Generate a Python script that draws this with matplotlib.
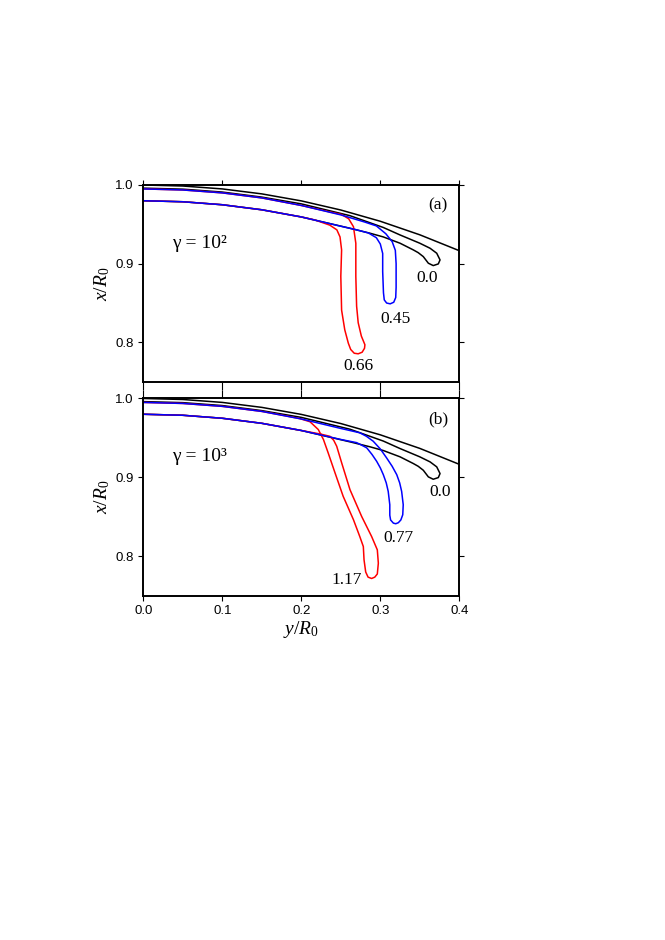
import matplotlib
matplotlib.use('Agg')
import matplotlib.pyplot as plt

plt.rcParams['mathtext.fontset'] = 'custom'
plt.rcParams['mathtext.rm'] = 'Liberation Serif'
plt.rcParams['mathtext.it'] = 'Liberation Serif:italic'

# unit circle (R0)
circle_y = [0.0, 0.05, 0.1, 0.15, 0.2, 0.25, 0.3, 0.35, 0.4]
circle_x = [1.0, 0.9987, 0.995, 0.9887, 0.9798, 0.9682, 0.9539, 0.9367, 0.9165]

# black loop, same in both panels (label 0.0)
black_y = [0, 0.05, 0.1, 0.15, 0.2, 0.2616, 0.3038, 0.325, 0.350, 0.363, 0.3714, 0.3756,
           0.3734, 0.367, 0.3608, 0.3544, 0.348, 0.3418, 0.325, 0.3038, 0.287, 0.2616,
           0.2, 0.15, 0.1, 0.05, 0]
black_x = [0.996, 0.9947, 0.991, 0.9846, 0.976, 0.961, 0.946, 0.9365, 0.926, 0.9196, 0.9133, 0.9048,
           0.8997, 0.8976, 0.9006, 0.909, 0.914, 0.9175, 0.926, 0.934, 0.9387, 0.945,
           0.9594, 0.9685, 0.9749, 0.9787, 0.980]

# panel (a), gamma = 1e2
red_a_y = [0, 0.05, 0.1, 0.15, 0.2, 0.235, 0.251, 0.26, 0.266, 0.269, 0.269, 0.270, 0.272,
           0.276, 0.2805, 0.2800, 0.277, 0.272, 0.267, 0.2625, 0.2595, 0.255, 0.251, 0.250,
           0.251, 0.249, 0.245, 0.236, 0.217, 0.2, 0.15, 0.1, 0.05, 0]
red_a_x = [0.995, 0.9937, 0.990, 0.9836, 0.974, 0.966, 0.9625, 0.957, 0.947, 0.926, 0.884, 0.846, 0.825,
           0.808, 0.797, 0.7925, 0.7875, 0.7855, 0.7862, 0.791, 0.799, 0.816, 0.841, 0.884,
           0.9175, 0.934, 0.943, 0.949, 0.9556, 0.9594, 0.9685, 0.9749, 0.9787, 0.980]

blue_a_y = [0, 0.05, 0.1, 0.15, 0.2, 0.25, 0.28, 0.295, 0.307, 0.315, 0.319, 0.320, 0.320,
            0.3195, 0.317, 0.3125, 0.308, 0.305, 0.304, 0.303, 0.303, 0.300, 0.295, 0.285,
            0.27, 0.25, 0.2, 0.15, 0.1, 0.05, 0]
blue_a_x = [0.995, 0.9937, 0.990, 0.9836, 0.974, 0.962, 0.953, 0.948, 0.938, 0.928, 0.917, 0.90, 0.87,
            0.857, 0.851, 0.849, 0.850, 0.854, 0.863, 0.89, 0.913, 0.925, 0.933, 0.939,
            0.943, 0.9476, 0.9594, 0.9685, 0.9749, 0.9787, 0.980]

# panel (b), gamma = 1e3
red_b_y = [0, 0.05, 0.1, 0.15, 0.18, 0.198, 0.211, 0.2215, 0.228, 0.234, 0.2427, 0.253, 0.266,
           0.274, 0.2785, 0.2794, 0.2815, 0.2845, 0.289, 0.293, 0.2962, 0.2975, 0.2962, 0.289,
           0.2764, 0.2616, 0.2511, 0.2448, 0.241, 0.2363, 0.2237, 0.2, 0.15, 0.1, 0.05, 0]
red_b_x = [0.995, 0.9937, 0.990, 0.9836, 0.978, 0.9745, 0.9705, 0.9606, 0.948, 0.931, 0.9056, 0.8759, 0.8463,
           0.825, 0.8123, 0.7954, 0.780, 0.7735, 0.7718, 0.7735, 0.7775, 0.7912, 0.8081, 0.825,
           0.8504, 0.8844, 0.9183, 0.9394, 0.947, 0.952, 0.955, 0.9594, 0.9685, 0.9749, 0.9787, 0.980]

blue_b_y = [0, 0.05, 0.1, 0.15, 0.2, 0.25, 0.274, 0.2825, 0.291, 0.300, 0.308, 0.315, 0.3208,
            0.3245, 0.327, 0.329, 0.3284, 0.326, 0.3228, 0.3195, 0.3165, 0.313, 0.312, 0.312,
            0.310, 0.3075, 0.3038, 0.300, 0.2954, 0.2895, 0.2828, 0.276, 0.270, 0.25, 0.2,
            0.15, 0.1, 0.05, 0]
blue_b_x = [0.995, 0.9937, 0.990, 0.9836, 0.974, 0.962, 0.9565, 0.952, 0.9458, 0.936, 0.9246, 0.914, 0.9034,
            0.893, 0.8822, 0.8653, 0.8526, 0.846, 0.8425, 0.8412, 0.842, 0.846, 0.852, 0.8653,
            0.8822, 0.893, 0.9034, 0.912, 0.9203, 0.929, 0.9374, 0.941, 0.944, 0.948, 0.9594,
            0.9685, 0.9749, 0.9787, 0.980]

xticks = [0.0, 0.1, 0.2, 0.3, 0.4]
yticks = [0.8, 0.9, 1.0]

serif = 'Liberation Serif'
sans = 'Liberation Sans'

fig = plt.figure(figsize=(6.65, 9.4), dpi=100)
ax_a = fig.add_axes([0.2155, 0.5939, 0.4752, 0.2093])
ax_b = fig.add_axes([0.2155, 0.3663, 0.4752, 0.2098])

panels = [
    (ax_a, red_a_y, red_a_x, blue_a_y, blue_a_x, '(a)', 'γ = 10²',
     [('0.0', 0.3587, 0.8816), ('0.45', 0.3186, 0.830), ('0.66', 0.272, 0.7694)]),
    (ax_b, red_b_y, red_b_x, blue_b_y, blue_b_x, '(b)', 'γ = 10³',
     [('0.0', 0.3756, 0.8814), ('0.77', 0.3228, 0.823), ('1.17', 0.2575, 0.770)]),
]

for ax, ry, rx, by, bx, tag, gam, labels in panels:
    ax.plot(circle_y, circle_x, color='black', lw=1.1)
    ax.plot(black_y, black_x, color='black', lw=1.1)
    ax.plot(ry, rx, color='red', lw=1.1)
    ax.plot(by, bx, color='blue', lw=1.1)

    ax.set_xlim(0, 0.4)
    ax.set_ylim(0.75, 1.0)
    ax.set_xticks(xticks)
    ax.set_yticks(yticks)
    ax.set_xticklabels(['%.1f' % t for t in xticks], fontfamily=sans, fontsize=9.5)
    ax.set_yticklabels(['%.1f' % t for t in yticks], fontfamily=sans, fontsize=9.5)
    ax.tick_params(direction='out', length=3.5, width=0.8, top=True, right=True)
    for s in ax.spines.values():
        s.set_linewidth(1.4)

    ax.set_ylabel(r'$x/R_0$', fontsize=14)
    ax.yaxis.set_label_coords(-0.1316, 0.5)
    ax.yaxis.label.set_va('center')

    ax.text(0.373, 0.974, tag, family=serif, fontsize=12.5, ha='center', va='center')
    ax.text(0.036, 0.926, gam, family=serif, fontsize=14, ha='left', va='center')
    for txt, ty, tx in labels:
        ax.text(ty, tx, txt, family=serif, fontsize=12.5, ha='center', va='center')

# ticks between the panels are longer
ax_a.tick_params(axis='x', labelbottom=False)
ax_a.tick_params(axis='x', which='major', bottom=True)
ax_a.xaxis.get_ticklines()
for t in ax_a.xaxis.get_major_ticks():
    t.tick1line.set_markersize(6)
for t in ax_b.xaxis.get_major_ticks():
    t.tick2line.set_markersize(6)

ax_b.set_xlabel(r'$y/R_0$', fontsize=14)
ax_b.xaxis.set_label_coords(0.5, -0.174)
ax_b.xaxis.label.set_va('center')

fig.savefig('out.png', dpi=100)
